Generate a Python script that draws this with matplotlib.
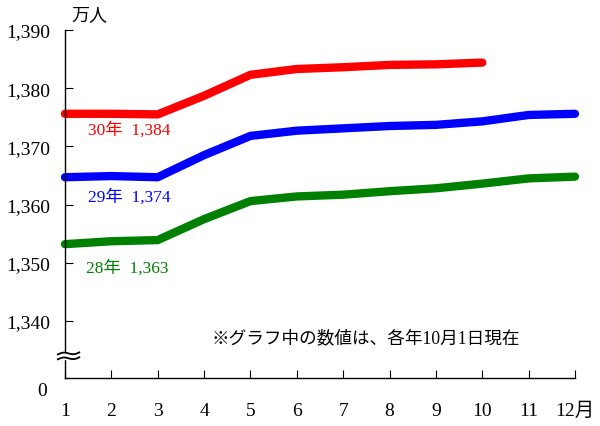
import matplotlib
matplotlib.use('Agg')
import matplotlib.pyplot as plt
import numpy as np

plt.rcParams['font.family'] = ['Liberation Serif', 'Noto Sans CJK JP']

# 各年の月別人口（万人）
months = [1, 2, 3, 4, 5, 6, 7, 8, 9, 10, 11, 12]
pop_h28 = [1353.2, 1353.7, 1353.9, 1357.5, 1360.6, 1361.4,
           1361.7, 1362.3, 1362.8, 1363.6, 1364.5, 1364.8]
pop_h29 = [1364.7, 1364.9, 1364.7, 1368.5, 1371.8, 1372.7,
           1373.1, 1373.5, 1373.7, 1374.3, 1375.4, 1375.6]
pop_h30 = [1375.6, 1375.6, 1375.5, 1378.7, 1382.3, 1383.3,
           1383.6, 1384.0, 1384.1, 1384.4]

series_labels = ['28年  1,363', '29年  1,374', '30年  1,384']
series_colors = ['green', 'blue', 'red']
label_pos = [(1.45, 1349.3), (1.5, 1361.5), (1.5, 1372.9)]

y_ticks = [1340, 1350, 1360, 1370, 1380, 1390]
y_ticklabels = ['1,340', '1,350', '1,360', '1,370', '1,380', '1,390']
x_ticklabels = ['1', '2', '3', '4', '5', '6', '7', '8', '9', '10', '11', '12月']

y_bottom = 1330.2
y_break = 1334.0

fig = plt.figure(figsize=(6.0, 4.27), dpi=100)
ax = fig.add_axes([65 / 600, 1 - 379 / 427, 510 / 600, 348 / 427])

for vals, color in zip([pop_h28, pop_h29, pop_h30], series_colors):
    ax.plot(months[:len(vals)], vals, color=color, lw=6.0,
            solid_capstyle='round', solid_joinstyle='round', clip_on=False)

for (lx, ly), text, color in zip(label_pos, series_labels, series_colors):
    ax.text(lx, ly, text, color=color, fontsize=12.5, va='center', ha='left')

ax.set_xlim(1, 12)
ax.set_ylim(y_bottom, 1390)

ax.spines['top'].set_visible(False)
ax.spines['right'].set_visible(False)
ax.spines['left'].set_linewidth(1.0)
ax.spines['bottom'].set_linewidth(1.0)

ax.set_yticks(y_ticks)
ax.set_yticklabels(y_ticklabels, fontsize=14)
ax.set_xticks(months)
ax.set_xticklabels(x_ticklabels, fontsize=14)
ax.tick_params(axis='y', direction='in', length=6, pad=11)
ax.tick_params(axis='x', direction='in', length=6, pad=17)

# 0 label below the break
ax.text(-0.035, -0.035, '0', transform=ax.transAxes, fontsize=14,
        ha='right', va='center')
ax.text(0.048, 1.02, '万人', transform=ax.transAxes, fontsize=13,
        ha='center', va='bottom')

# axis break mark
trans = ax.get_yaxis_transform()
ax.fill_between([-0.014, 0.028], y_break - 0.45, y_break + 0.45,
                transform=trans, color='white', clip_on=False, zorder=5)
wx = np.linspace(-0.014, 0.028, 20)
wave = 0.22 * np.sin((wx + 0.014) / 0.042 * 2 * np.pi) + \
    (wx + 0.014) / 0.042 * 0.35
for dy in (-0.42, 0.42):
    ax.plot(wx, y_break + dy - 0.17 + wave, transform=trans,
            color='black', lw=1.3, clip_on=False, zorder=6)

ax.text(0.59, 0.115, '※グラフ中の数値は、各年10月1日現在',
        transform=ax.transAxes, fontsize=12.7, ha='center', va='center')

fig.savefig('out.png', dpi=100)
